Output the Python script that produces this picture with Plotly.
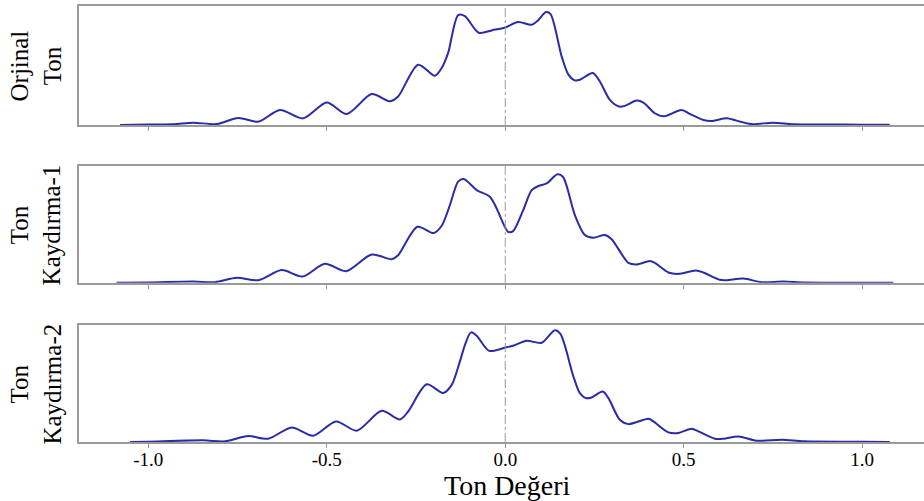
import plotly.graph_objects as go

# ---- data (normalised density) ----
orig_x = [-1.079, -1.0, -0.93, -0.874, -0.808, -0.748, -0.692, -0.631, -0.566, -0.500, -0.444,
          -0.374, -0.323, -0.300, -0.244, -0.197, -0.178, -0.160, -0.132, -0.113, -0.074, -0.036,
          0.0, 0.036, 0.074, 0.092, 0.114, 0.127, 0.158, 0.177, 0.195, 0.209, 0.245, 0.265, 0.293,
          0.319, 0.335, 0.368, 0.387, 0.419, 0.445, 0.494, 0.517, 0.555, 0.578, 0.620, 0.648, 0.690,
          0.751, 0.807, 0.9, 1.0, 1.077]
orig_y = [0.0, 0.005, 0.006, 0.02, 0.008, 0.06, 0.028, 0.127, 0.056, 0.19, 0.093,
          0.26, 0.2, 0.24, 0.507, 0.414, 0.479, 0.606, 0.924, 0.915, 0.775, 0.797,
          0.82, 0.865, 0.842, 0.879, 0.949, 0.932, 0.577, 0.423, 0.375, 0.38, 0.437, 0.366, 0.211,
          0.155, 0.161, 0.206, 0.189, 0.099, 0.073, 0.127, 0.093, 0.042, 0.034, 0.056, 0.037, 0.008,
          0.02, 0.006, 0.005, 0.003, 0.002]

shift1_x = [-1.089, -1.0, -0.874, -0.813, -0.752, -0.692, -0.626, -0.568, -0.505, -0.446, -0.374,
            -0.318, -0.300, -0.246, -0.201, -0.178, -0.155, -0.132, -0.116, -0.080, -0.043, -0.024,
            0.008, 0.022, 0.050, 0.074, 0.093, 0.116, 0.146, 0.162, 0.195, 0.223, 0.247, 0.279,
            0.298, 0.345, 0.368, 0.405, 0.419, 0.457, 0.485, 0.534, 0.555, 0.601, 0.620, 0.667,
            0.718, 0.779, 0.84, 1.0, 1.087]
shift1_y = [0.0, 0.003, 0.011, 0.006, 0.043, 0.023, 0.109, 0.054, 0.163, 0.1, 0.243,
            0.203, 0.237, 0.48, 0.426, 0.489, 0.666, 0.866, 0.889, 0.794, 0.737, 0.637,
            0.437, 0.443, 0.62, 0.794, 0.829, 0.851, 0.929, 0.906, 0.58, 0.409, 0.386, 0.409,
            0.374, 0.171, 0.157, 0.186, 0.171, 0.089, 0.077, 0.106, 0.089, 0.026, 0.023, 0.037,
            0.006, 0.011, 0.002, 0.001, 0.0]

shift2_x = [-1.051, -1.0, -0.846, -0.785, -0.720, -0.664, -0.598, -0.538, -0.474, -0.416, -0.346,
            -0.295, -0.272, -0.220, -0.174, -0.150, -0.127, -0.113, -0.096, -0.080, -0.045, 0.0,
            0.022, 0.060, 0.102, 0.139, 0.155, 0.191, 0.209, 0.226, 0.242, 0.273, 0.289, 0.321,
            0.345, 0.401, 0.415, 0.457, 0.485, 0.522, 0.541, 0.587, 0.611, 0.653, 0.704, 0.774,
            0.838, 1.0, 1.077]
shift2_y = [0.0, 0.003, 0.014, 0.006, 0.051, 0.028, 0.125, 0.054, 0.176, 0.097, 0.267,
            0.193, 0.261, 0.494, 0.42, 0.489, 0.69, 0.83, 0.938, 0.909, 0.78, 0.808,
            0.824, 0.866, 0.849, 0.957, 0.923, 0.56, 0.418, 0.375, 0.381, 0.432, 0.375, 0.19,
            0.153, 0.199, 0.176, 0.082, 0.077, 0.114, 0.091, 0.028, 0.028, 0.048, 0.011, 0.02,
            0.006, 0.002, 0.0]

panel_labels = ["Orjinal<br>Ton", "Ton<br>Kaydırma-1", "Ton<br>Kaydırma-2"]
tick_vals = [-1.0, -0.5, 0.0, 0.5, 1.0]
tick_text = ["-1.0", "-0.5", "0.0", "0.5", "1.0"]
x_title = "Ton Değeri"

# ---- figure ----
LINE = "#2b2ba6"
FRAME = "#9a9a9a"
SERIF = "Liberation Serif, Times New Roman, serif"

series = [(orig_x, orig_y), (shift1_x, shift1_y), (shift2_x, shift2_y)]
domains = [[0.727, 1.0], [0.365, 0.633], [0.0, 0.268]]

fig = go.Figure()
for i, (xs, ys) in enumerate(series):
    sfx = "" if i == 0 else str(i + 1)
    fig.add_trace(go.Scatter(x=xs, y=ys, mode="lines",
                             line=dict(color=LINE, width=2, shape="spline", smoothing=0.8),
                             xaxis="x" + sfx, yaxis="y" + sfx, showlegend=False,
                             hoverinfo="skip"))
    xa = dict(domain=[0, 1], range=[-1.194, 1.173], anchor="y" + sfx,
              showgrid=False, zeroline=False, showline=True, linecolor=FRAME, linewidth=1.5,
              mirror=True, ticks="outside", ticklen=4, tickcolor=FRAME, tickwidth=1,
              tickvals=tick_vals, ticktext=tick_text, showticklabels=(i == 2),
              ticklabelstandoff=-5,
              tickfont=dict(family=SERIF, size=19, color="black"))
    ya = dict(domain=domains[i], range=[0, 1.0], anchor="x" + sfx,
              showgrid=False, zeroline=False, showline=True, linecolor=FRAME, linewidth=1.5,
              showticklabels=False, ticks="")
    fig.layout["xaxis" + sfx] = xa
    fig.layout["yaxis" + sfx] = ya
    fig.add_shape(type="line", xref="x" + sfx, yref="y" + sfx + " domain",
                  x0=0, x1=0, y0=0, y1=1,
                  line=dict(color=FRAME, width=1, dash="dashdot"))
    fig.add_annotation(text=panel_labels[i], xref="paper", yref="paper",
                       x=-0.0509, y=(domains[i][0] + domains[i][1]) / 2,
                       xanchor="center", yanchor="middle", textangle=-90, showarrow=False,
                       font=dict(family=SERIF, size=25, color="black"))

fig.add_annotation(text=x_title, xref="paper", yref="paper", x=0.507, y=-0.100,
                   xanchor="center", yanchor="middle", showarrow=False,
                   font=dict(family=SERIF, size=28, color="black"))

fig.update_layout(width=924, height=501, margin=dict(l=79, r=0, t=6, b=59),
                  plot_bgcolor="white", paper_bgcolor="white")

fig.write_html("out.html")
